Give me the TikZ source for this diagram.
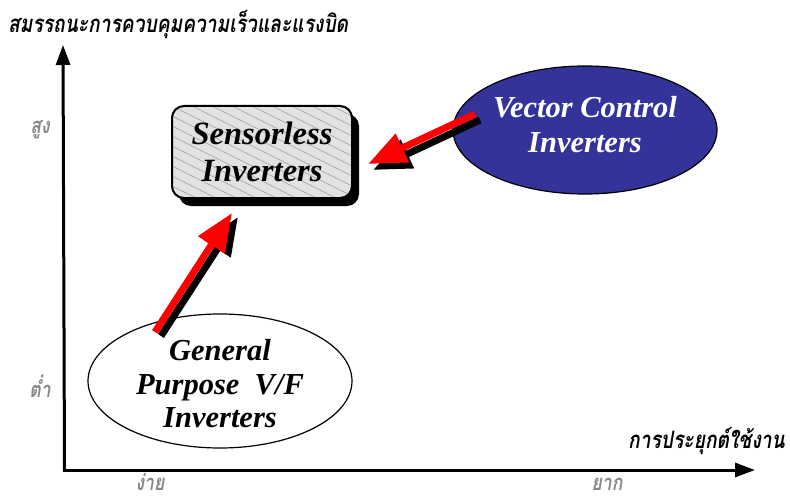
\documentclass[tikz,border=0pt]{standalone}
\usepackage{fontspec}
\setmainfont{Liberation Serif}
\newfontfamily\thaifont[Script=Thai, FakeStretch=0.8]{Loma}
\usetikzlibrary{arrows.meta,shapes.geometric,shadows}
\definecolor{vecblue}{RGB}{51,51,153}
\definecolor{boxgray}{RGB}{226,226,226}
\definecolor{hatchgray}{RGB}{160,160,160}
\definecolor{lblgray}{RGB}{135,135,135}
\tikzset{
  axisline/.style={line width=3pt,-{Triangle[length=20pt,width=14pt]}},
  thaititle/.style={font=\thaifont\bfseries\itshape\fontsize{24}{28}\selectfont, text=black, inner sep=0pt},
  levellabel/.style={font=\thaifont\bfseries\itshape\fontsize{22}{26}\selectfont, text=lblgray, inner sep=0pt},
  bigtext/.style={font=\bfseries\itshape\fontsize{30.5}{35}\selectfont, align=center},
  blob/.style={ellipse, draw=black, line width=1.2pt, inner sep=0pt},
  movearrow/.style={line width=7pt,-{Triangle[length=38pt,width=30pt]}},
}
\begin{document}
\begin{tikzpicture}[x=1pt,y=-1pt]
\useasboundingbox (0,0) rectangle (790,500);

% axes
\coordinate (origin) at (63,470);
\coordinate (ytop) at (63,45);
\coordinate (xend) at (755,470);
\draw[axisline] ([xshift=1.5pt]origin) -- (ytop);
\draw[axisline] (origin) -- (xend);

% axis titles and level labels
\node[thaititle, anchor=west] (ytitle) at (8,25) {สมรรถนะการควบคุมความเร็วและแรงบิด};
\node[thaititle, anchor=east] (xtitle) at (785,441) {การประยุกต์ใช้งาน};
\node[levellabel] (high) at (40,130) {สูง};
\node[levellabel] (low) at (40,386) {ต่ำ};
\node[levellabel, text depth=0pt, anchor=base] (easy) at (150,490) {ง่าย};
\node[levellabel, text depth=0pt, anchor=base] (hard) at (607,490) {ยาก};

% technology blobs
\node[blob, fill=vecblue, minimum width=264pt, minimum height=128pt] (vector) at (585,130) {};
\node[bigtext, text=white] (vectortext) at (585,125) {Vector Control\\Inverters};

\node[blob, fill=white, minimum width=264pt, minimum height=134pt] (general) at (220,381) {};
\node[bigtext, text=black, font=\bfseries\itshape\fontsize{30.5}{33.5}\selectfont] (generaltext) at (220,384) {General\\Purpose\ \ V/F\\Inverters};

\node[draw=black, line width=2pt, rounded corners=12pt, fill=boxgray,
      minimum width=180pt, minimum height=92pt,
      drop shadow={shadow xshift=7pt, shadow yshift=-8pt, fill=black, opacity=1},
      path picture={
        \foreach \k in {-220,-210,...,110}
          \draw[hatchgray, line width=0.5pt]
            ([yshift=-\k pt]path picture bounding box.north west) -- ++(260,130);
      }] (sensorless) at (262,152) {};
\node[bigtext, font=\bfseries\itshape\fontsize{32.5}{37}\selectfont] (sensortext) at (262,152) {Sensorless\\Inverters};

% migration arrows with black offset shadows
\coordinate (upTail) at (155,332);
\coordinate (upTip) at (232,213);
\coordinate (leftTail) at (475,114);
\coordinate (leftTip) at (368,164);
\draw[movearrow, black] ([shift={(6,4)}]upTail) -- ([shift={(6,4)}]upTip);
\draw[movearrow, red] (upTail) -- (upTip);
\draw[movearrow, black] ([shift={(5,6)}]leftTail) -- ([shift={(5,6)}]leftTip);
\draw[movearrow, red] (leftTail) -- (leftTip);
\end{tikzpicture}
\end{document}
